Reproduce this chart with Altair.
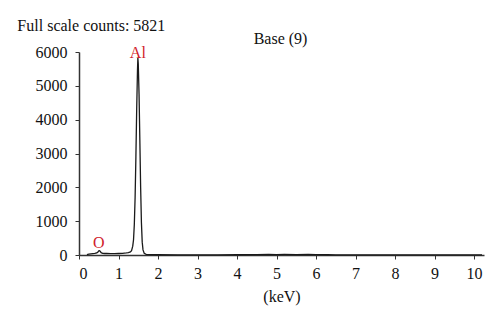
import altair as alt
import pandas as pd

energy = [0.20,0.25,0.30,0.35,0.40,0.45,0.48,0.50,0.52,0.54,
          0.56,0.60,0.65,0.70,0.80,0.90,1.00,1.10,1.20,1.25,
          1.30,1.33,1.36,1.38,1.40,1.42,1.44,1.46,1.48,1.49,
          1.50,1.52,1.54,1.56,1.58,1.60,1.62,1.65,1.70,1.80,
          2.00,2.5,3.0,3.5,4.0,4.5,4.8,5.0,5.2,5.5,
          5.8,6.0,6.3,6.5,7.0,7.5,8.0,8.5,9.0,9.5,
          10.0,10.2]
counts = [10,25,35,40,45,60,90,120,125,105,
          70,50,45,45,42,42,45,50,60,70,
          90,130,260,450,900,1700,2900,4300,5450,5821,
          5650,4750,3400,2000,950,380,150,50,20,10,
          8,6,6,6,8,12,15,14,16,12,
          15,10,8,6,5,5,4,4,4,3,
          3,3]

x_ticks = [0, 1, 2, 3, 4, 5, 6, 7, 8, 9, 10]
y_ticks = [0, 1000, 2000, 3000, 4000, 5000, 6000]

peak_labels = ["O", "Al"]
peak_x = [0.50, 1.49]
peak_y = [207, 5820]

note_text = ["Full scale counts: 5821", "Base (9)"]
note_x = [-1.56, 5.10]
note_y = [6630, 6237]
note_align = ["left", "center"]

FONT = "Liberation Serif"
FS = 16

spec = pd.DataFrame({"energy": energy, "counts": counts})
peaks = pd.DataFrame({"label": peak_labels, "x": peak_x, "y": peak_y})
notes = pd.DataFrame({"label": note_text, "x": note_x, "y": note_y, "align": note_align})

xscale = alt.Scale(domain=[0, 10.25], nice=False, zero=False)
yscale = alt.Scale(domain=[0, 6000], nice=False)

xaxis = alt.Axis(title="(keV)", values=x_ticks, grid=False,
                 format="d", labelOverlap=False,
                 tickSize=4, labelPadding=6, titlePadding=7,
                 domainColor="#333", tickColor="#333", domainWidth=1.5,
                 labelFont=FONT, titleFont=FONT, labelFontSize=FS,
                 titleFontSize=FS, titleFontWeight="normal",
                 labelColor="#111", titleColor="#111")
yaxis = alt.Axis(title=None, values=y_ticks,
                 format="d", labelOverlap=False,
                 grid=False, tickSize=4, labelPadding=8,
                 domainColor="#333", tickColor="#333", domainWidth=1.5,
                 labelFont=FONT, labelFontSize=FS, labelColor="#111")

line = alt.Chart(spec).mark_line(color="#1a1a1a", strokeWidth=1.3).encode(
    x=alt.X("energy:Q", scale=xscale, axis=xaxis, title="(keV)"),
    y=alt.Y("counts:Q", scale=yscale, axis=yaxis, title=None),
)

def enc(ch):
    return ch.encode(
        x=alt.X("x:Q", scale=xscale, axis=xaxis, title="(keV)"),
        y=alt.Y("y:Q", scale=yscale, axis=yaxis, title=None),
        text="label:N",
    )

peak_text = enc(alt.Chart(peaks).mark_text(
    color="#d0202a", font=FONT, fontSize=FS, baseline="alphabetic", align="center"))

note_left = enc(alt.Chart(notes[notes["align"] == "left"]).mark_text(
    color="#111", font=FONT, fontSize=FS, baseline="alphabetic", align="left"))

note_center = enc(alt.Chart(notes[notes["align"] == "center"]).mark_text(
    color="#111", font=FONT, fontSize=FS, baseline="alphabetic", align="center"))

chart = alt.layer(line, peak_text, note_left, note_center).properties(
    width=405, height=203,
    autosize=alt.AutoSizeParams(type="none"),
    padding={"left": 79, "top": 52, "right": 16, "bottom": 71},
    background="white",
).configure_view(stroke=None)

chart.save("out.html", embed_options={"renderer": "svg", "actions": False})
